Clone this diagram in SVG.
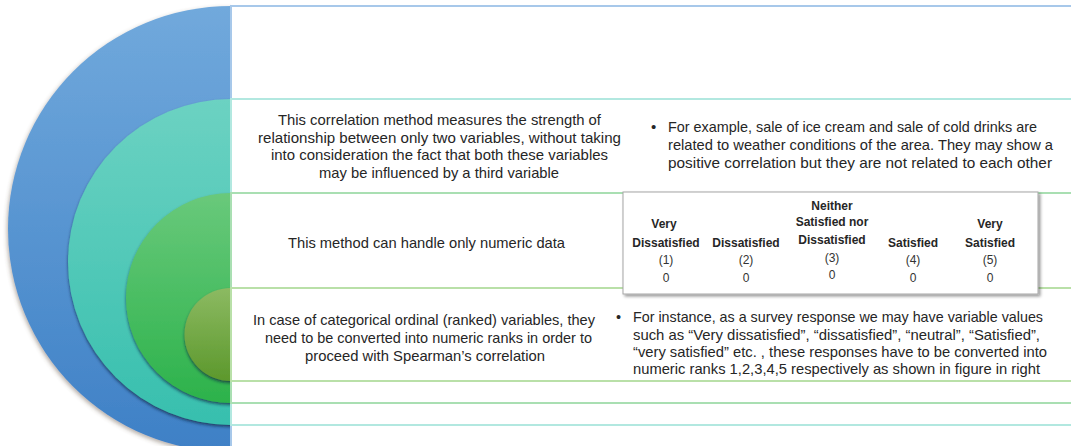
<svg xmlns="http://www.w3.org/2000/svg" width="1071" height="446" viewBox="0 0 1071 446">
  <style>
    .band { fill: #ffffff; stroke-width: 2; }
    .txt { font-family: "Liberation Sans", Arial, sans-serif; font-size: 15px; fill: #262626; }
    .sm { font-size: 14.5px; }
    .mid { text-anchor: middle; }
    .th { font-family: "Liberation Sans", Arial, sans-serif; font-size: 12px; font-weight: bold; fill: #262626; text-anchor: middle; }
    .td { font-family: "Liberation Sans", Arial, sans-serif; font-size: 12px; fill: #333333; text-anchor: middle; }
  </style>
  <defs>
    <linearGradient id="gBlue" x1="0" y1="0" x2="0" y2="1">
      <stop offset="0" stop-color="#71a9dc"/>
      <stop offset="1" stop-color="#3e80c6"/>
    </linearGradient>
    <linearGradient id="gTeal" x1="0" y1="0" x2="0" y2="1">
      <stop offset="0" stop-color="#6cd2c2"/>
      <stop offset="1" stop-color="#37bfae"/>
    </linearGradient>
    <linearGradient id="gGreen" x1="0" y1="0" x2="0" y2="1">
      <stop offset="0" stop-color="#69c97b"/>
      <stop offset="1" stop-color="#2cb24b"/>
    </linearGradient>
    <linearGradient id="gOlive" x1="0" y1="0" x2="0" y2="1">
      <stop offset="0" stop-color="#8cba62"/>
      <stop offset="1" stop-color="#5c982c"/>
    </linearGradient>
    <filter id="ringShadow" x="-20%" y="-20%" width="140%" height="140%">
      <feDropShadow dx="0" dy="2" stdDeviation="1.6" flood-color="#0c2340" flood-opacity="0.7"/>
    </filter>
    <filter id="outerShadow" x="-20%" y="-20%" width="140%" height="140%">
      <feDropShadow dx="-1" dy="2" stdDeviation="2" flood-color="#5a4a3a" flood-opacity="0.45"/>
    </filter>
    <filter id="boxShadow" x="-10%" y="-10%" width="120%" height="130%">
      <feDropShadow dx="2" dy="2" stdDeviation="1.5" flood-color="#000000" flood-opacity="0.4"/>
    </filter>
    <clipPath id="leftHalf">
      <rect x="0" y="0" width="231" height="446"/>
    </clipPath>
  </defs>

  <rect width="1071" height="446" fill="#ffffff"/>

  <!-- nested half-circles -->
  <g id="rings" clip-path="url(#leftHalf)">
    <circle id="ring-blue" cx="231" cy="229" r="223" fill="url(#gBlue)" filter="url(#outerShadow)"/>
    <circle id="ring-teal" cx="231" cy="262" r="163" fill="url(#gTeal)" filter="url(#ringShadow)"/>
    <circle id="ring-green" cx="231" cy="298" r="105" fill="url(#gGreen)" filter="url(#ringShadow)"/>
    <circle id="ring-olive" cx="231" cy="334.5" r="46.5" fill="url(#gOlive)" filter="url(#ringShadow)"/>
  </g>

  <!-- bands to the right of each ring -->
  <g id="bands">
    <rect class="band" x="231" y="6" width="850" height="450" stroke="#a7c8ea"/>
    <rect class="band" x="231" y="99" width="850" height="326" stroke="#b2e8e0"/>
    <rect class="band" x="231" y="193" width="850" height="210" stroke="#a9dfb2"/>
    <rect class="band" x="231" y="288" width="850" height="93" stroke="#b9e0a8"/>
  </g>

  <!-- row 2: partial correlation -->
  <g id="node-definition">
    <text class="txt mid" x="439.5" y="125" textLength="323" lengthAdjust="spacingAndGlyphs">This correlation method measures the strength of</text>
    <text class="txt mid" x="439.5" y="142.5" textLength="363" lengthAdjust="spacingAndGlyphs">relationship between only two variables, without taking</text>
    <text class="txt mid" x="439.5" y="160" textLength="337" lengthAdjust="spacingAndGlyphs">into consideration the fact that both these variables</text>
    <text class="txt mid" x="439" y="177.5" textLength="240" lengthAdjust="spacingAndGlyphs">may be influenced by a third variable</text>
  </g>
  <g id="node-example">
    <text class="txt" x="651" y="132">•</text>
    <text class="txt" x="668" y="132" textLength="369" lengthAdjust="spacingAndGlyphs">For example, sale of ice cream and sale of cold drinks are</text>
    <text class="txt" x="668" y="150" textLength="385" lengthAdjust="spacingAndGlyphs">related to weather conditions of the area. They may show a</text>
    <text class="txt" x="668" y="168" textLength="384" lengthAdjust="spacingAndGlyphs">positive correlation but they are not related to each other</text>
  </g>

  <!-- row 3: numeric data -->
  <g id="node-numeric">
    <text class="txt mid" x="426.5" y="248" textLength="277" lengthAdjust="spacingAndGlyphs">This method can handle only numeric data</text>
  </g>
  <g id="node-scale">
    <rect x="623" y="192" width="415" height="102" fill="#ffffff" stroke="#a6a6a6" stroke-width="1" filter="url(#boxShadow)"/>
    <text class="th" x="832" y="209.5">Neither</text>
    <text class="th" x="664" y="227.5">Very</text>
    <text class="th" x="832" y="225.5">Satisfied nor</text>
    <text class="th" x="990" y="227.5">Very</text>
    <text class="th" x="666" y="246.5">Dissatisfied</text>
    <text class="th" x="746" y="246.5">Dissatisfied</text>
    <text class="th" x="832" y="243.5">Dissatisfied</text>
    <text class="th" x="913" y="246.5">Satisfied</text>
    <text class="th" x="990" y="246.5">Satisfied</text>
    <text class="td" x="666" y="264">(1)</text>
    <text class="td" x="746" y="264">(2)</text>
    <text class="td" x="832" y="261.5">(3)</text>
    <text class="td" x="913" y="264">(4)</text>
    <text class="td" x="990" y="264">(5)</text>
    <text class="td" x="666" y="281.5">0</text>
    <text class="td" x="746" y="281.5">0</text>
    <text class="td" x="832" y="278.5">0</text>
    <text class="td" x="913" y="281.5">0</text>
    <text class="td" x="990" y="281.5">0</text>
  </g>

  <!-- row 4: ordinal variables -->
  <g id="node-ordinal">
    <text class="txt sm mid" x="424" y="325" textLength="342" lengthAdjust="spacingAndGlyphs">In case of categorical ordinal (ranked) variables, they</text>
    <text class="txt sm mid" x="428.5" y="343" textLength="327" lengthAdjust="spacingAndGlyphs">need to be converted into numeric ranks in order to</text>
    <text class="txt sm mid" x="425" y="361" textLength="240" lengthAdjust="spacingAndGlyphs">proceed with Spearman’s correlation</text>
  </g>
  <g id="node-survey">
    <text class="txt sm" x="616" y="322">•</text>
    <text class="txt sm" x="633" y="322" textLength="410" lengthAdjust="spacingAndGlyphs">For instance, as a survey response we may have variable values</text>
    <text class="txt sm" x="633" y="340" textLength="407" lengthAdjust="spacingAndGlyphs">such as “Very dissatisfied”, “dissatisfied”, “neutral”, “Satisfied”,</text>
    <text class="txt sm" x="633" y="357" textLength="414" lengthAdjust="spacingAndGlyphs">“very satisfied” etc. , these responses have to be converted into</text>
    <text class="txt sm" x="633" y="374" textLength="407" lengthAdjust="spacingAndGlyphs">numeric ranks 1,2,3,4,5  respectively as shown in figure in right</text>
  </g>

  <g id="connectors"/>
</svg>
